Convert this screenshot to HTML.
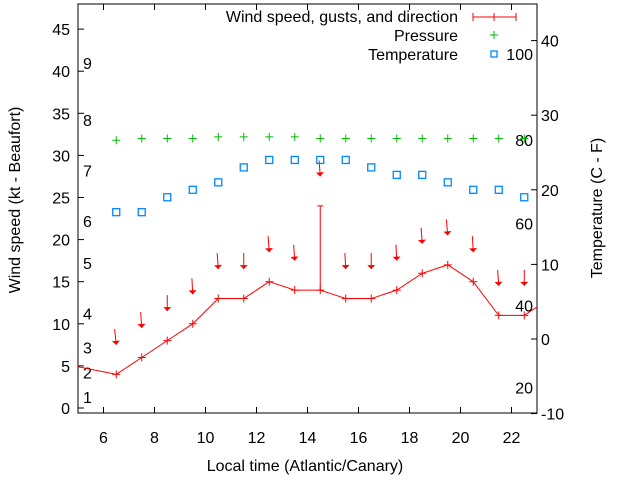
<!DOCTYPE html>
<html><head><meta charset="utf-8"><style>
body{margin:0;background:#fff}
svg{display:block;font-family:"Liberation Sans",sans-serif;font-size:16px}
</style></head><body>
<svg id="chart" width="640" height="480" viewBox="0 0 640 480" xmlns="http://www.w3.org/2000/svg">
<g id="axes"></g>
<g id="marks"></g>
<g id="legend">
<text x="458" y="22" text-anchor="end">Wind speed, gusts, and direction</text>
<line x1="473" y1="17" x2="516" y2="17" stroke="#f00"/>
<line x1="473" y1="13" x2="473" y2="21" stroke="#f00"/><line x1="516" y1="13" x2="516" y2="21" stroke="#f00"/><line x1="494" y1="13" x2="494" y2="21" stroke="#f00"/>
<text x="458" y="41" text-anchor="end">Pressure</text>
<path d="M490 35h8M494 31v8" stroke="#0b0"/>
<text x="458" y="60" text-anchor="end">Temperature</text>
<rect x="491" y="51" width="6" height="6" fill="none" stroke="#08f" stroke-width="1.3"/>
</g>
</svg>
<script>
const hours=[6.5,7.5,8.5,9.5,10.5,11.5,12.5,13.5,14.5,15.5,16.5,17.5,18.5,19.5,20.5,21.5,22.5];
const windSpeed=[4,6,8,10,13,13,15,14,14,13,13,14,16,17,15,11,11];
const windGust=[null,null,null,null,null,null,null,null,24,null,null,null,null,null,null,null,null];
const windDir=[6,4,0,3,4,0,4,4,4,3,0,3,4,5,3,4,0];
const pressure=[31.8,32,32,32,32.2,32.2,32.2,32.2,32,32,32,32,32,32,32,32,32];
const temperature=[17,17,19,20,21,23,24,24,24,24,23,22,22,21,20,20,19];
const edgeHours=[5,23];const edgeSpeed=[4.9,12];
const xTicks=[6,8,10,12,14,16,18,20,22];
const yTicks=[0,5,10,15,20,25,30,35,40,45];
const tTicks=[-10,0,10,20,30,40];
const beaufort=[[1,1.3],[2,4.2],[3,7.2],[4,11.2],[5,17.2],[6,22.2],[7,28.2],[8,34.2],[9,41]];
const fahr=[[100,38.2],[80,26.7],[60,15.5],[40,4.5],[20,-6.5]];
const L=78,R=537,T=4,B=413;
const X=h=>L+(h-5)/(23-5)*(R-L);
const Y=v=>408-v*8.42;
const TY=c=>339-c*7.46;
const NS="http://www.w3.org/2000/svg";
function mk(p,tag,a,txt){const e=document.createElementNS(NS,tag);for(const k in a)e.setAttribute(k,a[k]);if(txt!=null)e.textContent=txt;p.appendChild(e);return e;}
const ax=document.getElementById('axes'),mg=document.getElementById('marks');
const fr=mk(ax,'rect',{x:L,y:T,width:R-L,height:B-T,fill:'none',stroke:'#000'});


xTicks.forEach(h=>{const x=X(h);
mk(ax,'line',{x1:x,y1:B,x2:x,y2:B-6,stroke:'#000'});mk(ax,'line',{x1:x,y1:T,x2:x,y2:T+6,stroke:'#000'});
const t=mk(ax,'text',{x:x,y:443,'text-anchor':'middle'},h);

});
yTicks.forEach(v=>{const y=Y(v);mk(ax,'line',{x1:L,y1:y,x2:L+6,y2:y,stroke:'#000'});
const t=mk(ax,'text',{x:70,y:y+6,'text-anchor':'end'},v);

});
tTicks.forEach(v=>{const y=TY(v);mk(ax,'line',{x1:R,y1:y,x2:R-6,y2:y,stroke:'#000'});
const t=mk(ax,'text',{x:541,y:y+6},v);

});
beaufort.forEach(b=>{const t=mk(ax,'text',{x:83,y:Y(b[1])+6},b[0]);

});
fahr.forEach(f=>{const t=mk(ax,'text',{x:533,y:TY(f[1])+6,'text-anchor':'end'},f[0]);

});
let t=mk(ax,'text',{x:305,y:471,'text-anchor':'middle'},'Local time (Atlantic/Canary)');


t=mk(ax,'text',{x:20,y:200,'text-anchor':'middle',transform:'rotate(-90 20 200)'},'Wind speed (kt - Beaufort)');


t=mk(ax,'text',{x:602,y:208,'text-anchor':'middle',transform:'rotate(-90 602 208)'},'Temperature (C - F)');


const pts=[[edgeHours[0],edgeSpeed[0]]].concat(hours.map((h,i)=>[h,windSpeed[i]])).concat([[edgeHours[1],edgeSpeed[1]]]);
const ln=mk(mg,'polyline',{points:pts.map(p=>X(p[0])+','+Y(p[1])).join(' '),fill:'none',stroke:'#f00'});


hours.forEach((h,i)=>{const x=X(h),y=Y(windSpeed[i]);
const p=mk(mg,'path',{d:`M${x-4} ${y}h8M${x} ${y-4}v8`,stroke:'#f00'});


let top=windSpeed[i];
if(windGust[i]!=null){top=windGust[i];const g=mk(mg,'path',{d:`M${x} ${y}V${Y(top)}M${x-3} ${Y(top)}h6`,stroke:'#f00'});

}
const hy=Y(top+3.5),a=windDir[i]*Math.PI/180,len=16;
const tx=x-Math.sin(a)*len,ty=hy-Math.cos(a)*len;
const ar=mk(mg,'g',{});


mk(ar,'line',{x1:tx,y1:ty,x2:x,y2:hy,stroke:'#f00'});
mk(ar,'polygon',{points:`${x},${hy} ${x-4},${hy-4} ${x+4},${hy-4}`,fill:'#f00',transform:`rotate(${-windDir[i]} ${x} ${hy})`});
const pp=mk(mg,'path',{d:`M${x-4} ${Y(pressure[i])}h8M${x} ${Y(pressure[i])-4}v8`,stroke:'#0b0'});


const sq=mk(mg,'rect',{x:x-3.5,y:TY(temperature[i])-3.5,width:7,height:7,fill:'none',stroke:'#08f','stroke-width':1.3});

});
</script>
</body></html>
